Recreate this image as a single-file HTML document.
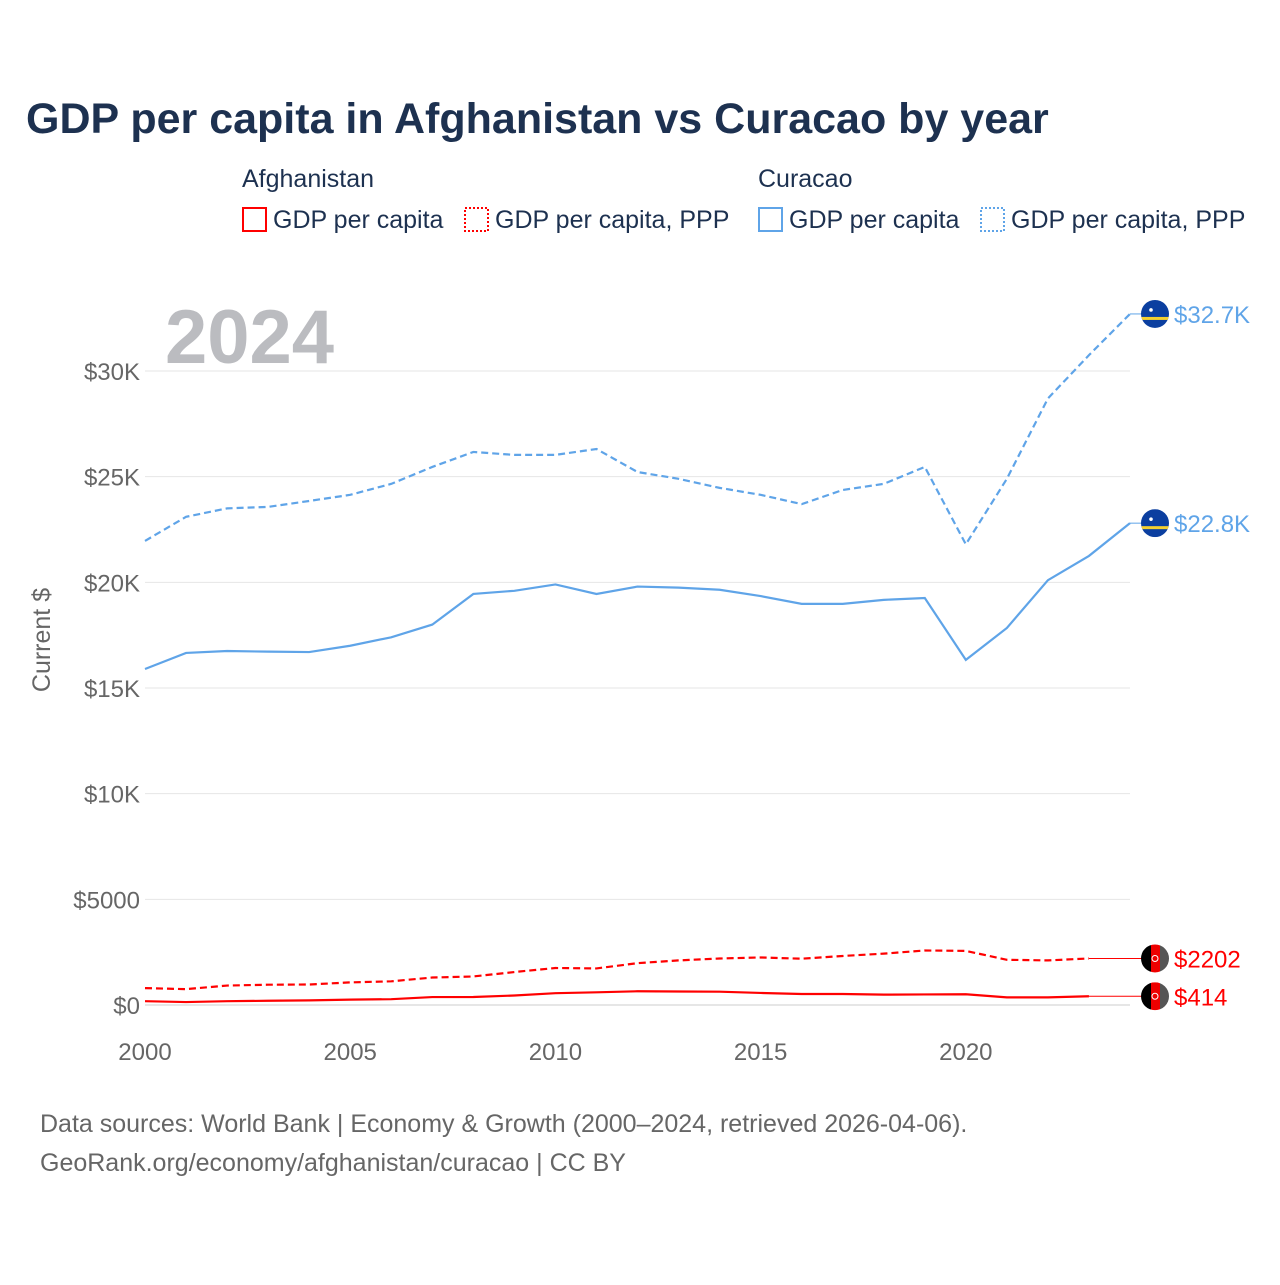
<!DOCTYPE html>
<html><head><meta charset="utf-8"><style>
body{margin:0;background:#fff;width:1280px;height:1280px;overflow:hidden;font-family:"Liberation Sans",sans-serif}
</style></head><body>
<svg width="1280" height="1280" font-family="Liberation Sans, sans-serif">
<text x="26" y="133" font-size="43" font-weight="bold" fill="#1d3150">GDP per capita in Afghanistan vs Curacao by year</text>
<g font-size="25" fill="#1d3150">
<text x="242" y="187">Afghanistan</text>
<text x="758" y="187">Curacao</text>
<g><rect x="243" y="208" width="23" height="23" fill="none" stroke="red" stroke-width="2"/><text x="273" y="228">GDP per capita</text></g>
<g><rect x="465" y="208" width="23" height="23" fill="none" stroke="red" stroke-width="2" stroke-dasharray="2,2"/><text x="495" y="228">GDP per capita, PPP</text></g>
<g><rect x="759" y="208" width="23" height="23" fill="none" stroke="#5fa4e8" stroke-width="2"/><text x="789" y="228">GDP per capita</text></g>
<g><rect x="981" y="208" width="23" height="23" fill="none" stroke="#5fa4e8" stroke-width="2" stroke-dasharray="2,2"/><text x="1011" y="228">GDP per capita, PPP</text></g>
</g>
<text x="165" y="363" font-size="76" font-weight="bold" fill="#bbbcc0">2024</text>
<text transform="translate(50,640) rotate(-90)" text-anchor="middle" font-size="25" fill="#666">Current $</text>
<defs><clipPath id="fc"><circle cx="0" cy="0" r="14"/></clipPath></defs>
<g id="grid"></g><g id="series"></g><g id="ends"></g>
<text x="40" y="1132" font-size="25" fill="#666">Data sources: World Bank | Economy &amp; Growth (2000–2024, retrieved 2026-04-06).</text>
<text x="40" y="1171" font-size="25" fill="#666">GeoRank.org/economy/afghanistan/curacao | CC BY</text>
</svg>
<script>
const years=[2000,2001,2002,2003,2004,2005,2006,2007,2008,2009,2010,2011,2012,2013,2014,2015,2016,2017,2018,2019,2020,2021,2022,2023,2024];
const cuwGdp=[15900,16660,16750,16720,16700,17000,17400,18000,19450,19600,19900,19450,19800,19750,19650,19350,18980,18980,19170,19260,16330,17840,20100,21250,22800];
const cuwPpp=[21960,23100,23500,23570,23850,24140,24660,25460,26170,26030,26030,26310,25220,24900,24470,24140,23700,24370,24660,25460,21800,24900,28700,30750,32700];
const afgGdp=[180,140,180,200,220,255,275,375,380,450,560,600,650,640,630,570,520,520,490,500,510,360,360,414];
const afgPpp=[800,750,920,960,970,1070,1120,1300,1350,1560,1750,1730,1980,2110,2200,2250,2190,2320,2430,2580,2560,2140,2110,2202];
const yTicks=[0,5000,10000,15000,20000,25000,30000];
const yLabels=["$0","$5000","$10K","$15K","$20K","$25K","$30K"];
const xTicks=[2000,2005,2010,2015,2020];
const NS="http://www.w3.org/2000/svg";
const X=y=>145+(y-2000)*(1130-145)/24;
const Y=v=>1005-v*(1005-371)/30000;
function mk(t,a,p){const e=document.createElementNS(NS,t);for(const k in a)e.setAttribute(k,a[k]);p.appendChild(e);return e;}
const grid=document.getElementById('grid');
yTicks.forEach((v,i)=>{
 const l=mk('line',{x1:145,x2:1130,y1:Y(v),y2:Y(v),stroke:i==0?'#ccc':'#e6e6e6','stroke-width':1},grid);
 
 
 const t=mk('text',{x:140,y:Y(v)+9,'text-anchor':'end','font-size':24,fill:'#666'},grid);t.textContent=yLabels[i];
 
 
});
xTicks.forEach(y=>{
 const t=mk('text',{x:X(y),y:1060,'text-anchor':'middle','font-size':24,fill:'#666'},grid);t.textContent=y;
 
 
});
const ser=document.getElementById('series');
function line(vals,col,dash,name){
 const d=vals.map((v,i)=>(i?'L':'M')+X(years[i])+','+Y(v)).join('');
 const p=mk('path',{d:d,fill:'none',stroke:col,'stroke-width':2.2,'stroke-dasharray':dash||'none'},ser);
 
 
}
line(cuwPpp,'#5fa4e8','7,4','line-curacao-ppp');
line(cuwGdp,'#5fa4e8',null,'line-curacao-gdp');
line(afgPpp,'red','7,4','line-afghanistan-ppp');
line(afgGdp,'red',null,'line-afghanistan-gdp');
const ends=document.getElementById('ends');
function endLabel(v,lastYear,col,txt,flag,name){
 const yy=Y(v);
 mk('line',{x1:X(lastYear),x2:1142,y1:yy,y2:yy,stroke:col,'stroke-width':1},ends);
 const g=mk('g',{},ends);
 
 
 const f=mk('g',{transform:`translate(1155,${yy})`,'clip-path':'url(#fc)'},g);
 if(flag=='cuw'){
  mk('rect',{x:-14,y:-14,width:28,height:28,fill:'#0b3fa0'},f);
  mk('rect',{x:-14,y:3,width:28,height:3,fill:'#f5d130'},f);
  mk('circle',{cx:-4,cy:-4,r:1.8,fill:'#fff'},f);
 }else{
  mk('rect',{x:-14,y:-14,width:10,height:28,fill:'#000'},f);
  mk('rect',{x:-4,y:-14,width:9,height:28,fill:'#e00'},f);
  mk('rect',{x:5,y:-14,width:9,height:28,fill:'#555'},f);
  mk('circle',{cx:0,cy:0,r:3,fill:'none',stroke:'#fff','stroke-width':1},f);
 }
 const t=mk('text',{x:1174,y:yy+9,'font-size':24,fill:col},g);t.textContent=txt;
}
endLabel(cuwPpp[24],2024,'#5fa4e8','$32.7K','cuw','end-label-curacao-ppp');
endLabel(cuwGdp[24],2024,'#5fa4e8','$22.8K','cuw','end-label-curacao-gdp');
endLabel(afgPpp[23],2023,'red','$2202','afg','end-label-afghanistan-ppp');
endLabel(afgGdp[23],2023,'red','$414','afg','end-label-afghanistan-gdp');
</script>
</body></html>
